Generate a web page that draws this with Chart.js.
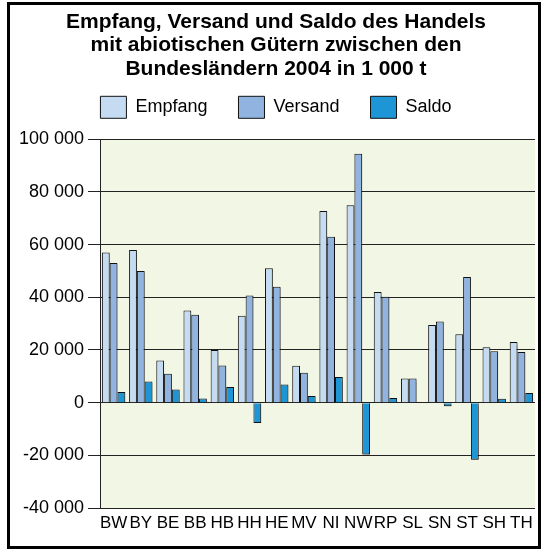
<!DOCTYPE html>
<html>
<head>
<meta charset="utf-8">
<script src="https://cdn.jsdelivr.net/npm/chart.js@4"></script>
<style>
  html, body { margin: 0; padding: 0; background: #fff; }
  #frame {
    position: absolute; left: 7px; top: 2px;
    width: 528px; height: 541px;
    border: 3px solid #000;
  }
  #wrap { position: absolute; left: 0; top: 0; width: 545px; height: 551px; }
</style>
</head>
<body>
<div id="frame"></div>
<div id="wrap"><canvas id="chart"></canvas></div>
<script>
// Bundesländer
const laender = ['BW', 'BY', 'BE', 'BB', 'HB', 'HH', 'HE', 'MV', 'NI', 'NW', 'RP', 'SL', 'SN', 'ST', 'SH', 'TH'];

// values in 1 000 t
const empfang = [57000, 58000, 16000, 35000, 20000, 33000, 51000, 14000, 72800, 75000, 42000, 9200, 29500, 26000, 21000, 23000];
const versand = [53000, 50000, 11000, 33400, 14100, 40700, 44000, 11400, 63000, 94500, 40200, 9200, 30800, 47700, 19500, 19200];
const saldo = [4000, 8000, 5000, 1600, 5900, -7700, 6900, 2500, 9700, -19700, 1800, -200, -1400, -21700, 1500, 3700];

const titleLines = [
    'Empfang, Versand und Saldo des Handels',
    'mit abiotischen Gütern zwischen den',
    'Bundesländern 2004 in 1 000 t'
];

const fontFamily = '"Liberation Sans", Arial, Helvetica, sans-serif';

function formatNumber(v) {
    return String(v).replace(/\B(?=(\d{3})+(?!\d))/g, ' ');
}

// plot area background + soft shadow on bars
const plotBackground = {
    id: 'plotBackground',
    beforeDraw(chart) {
        const { ctx, chartArea } = chart;
        ctx.save();
        ctx.fillStyle = '#f2f6e4';
        ctx.fillRect(chartArea.left, chartArea.top, chartArea.right - chartArea.left, chartArea.bottom - chartArea.top);
        ctx.restore();
    },
    beforeDatasetsDraw(chart) {
        const ctx = chart.ctx;
        ctx.save();
        ctx.shadowColor = 'rgba(0, 0, 0, 0.25)';
        ctx.shadowOffsetX = 1;
        ctx.shadowOffsetY = 1;
        ctx.shadowBlur = 1;
    },
    afterDatasetsDraw(chart) {
        chart.ctx.restore();
    }
};

const barStyle = {
    borderColor: '#111',
    borderWidth: 1,
    barPercentage: 1.0,
    categoryPercentage: 0.86
};

new Chart(document.getElementById('chart'), {
    type: 'bar',
    data: {
        labels: laender,
        datasets: [
            { label: 'Empfang', data: empfang, backgroundColor: '#c5dbf1', ...barStyle },
            { label: 'Versand', data: versand, backgroundColor: '#90b3e0', ...barStyle },
            { label: 'Saldo', data: saldo, backgroundColor: '#1e96d5', ...barStyle }
        ]
    },
    options: {
        responsive: true,
        maintainAspectRatio: false,
        animation: false,
        devicePixelRatio: 1,
        layout: {
            padding: { left: 17, right: 10, top: 0, bottom: 13 }
        },
        plugins: {
            title: {
                display: true,
                text: titleLines,
                color: '#000',
                font: { family: fontFamily, size: 21, weight: 'bold', lineHeight: 1.1 },
                padding: { top: 11, bottom: -15 }
            },
            // empty spacer between legend and plot
            subtitle: {
                display: true,
                text: '',
                weight: 500,
                font: { size: 1, lineHeight: 1 },
                padding: { top: 0, bottom: 10 }
            },
            legend: {
                display: true,
                labels: {
                    color: '#000',
                    font: { family: fontFamily, size: 18 },
                    boxWidth: 26,
                    boxHeight: 22,
                    padding: 31
                }
            },
            tooltip: { enabled: false }
        },
        scales: {
            x: {
                grid: { display: false, drawTicks: false, tickLength: 0 },
                border: { display: false },
                ticks: {
                    color: '#000',
                    font: { family: fontFamily, size: 17 },
                    autoSkip: false,
                    maxRotation: 0,
                    padding: 5
                },
                afterFit(scale) { scale.height = 30; }
            },
            y: {
                min: -40000,
                max: 100000,
                ticks: {
                    stepSize: 20000,
                    color: '#000',
                    font: { family: fontFamily, size: 18 },
                    padding: 4,
                    callback: (v) => formatNumber(v)
                },
                grid: {
                    color: '#222',
                    lineWidth: 1,
                    tickLength: 12
                },
                border: { display: true, color: '#222', width: 1 },
                afterFit(scale) { scale.width = 83; }
            }
        }
    },
    plugins: [plotBackground]
});
</script>
</body>
</html>
